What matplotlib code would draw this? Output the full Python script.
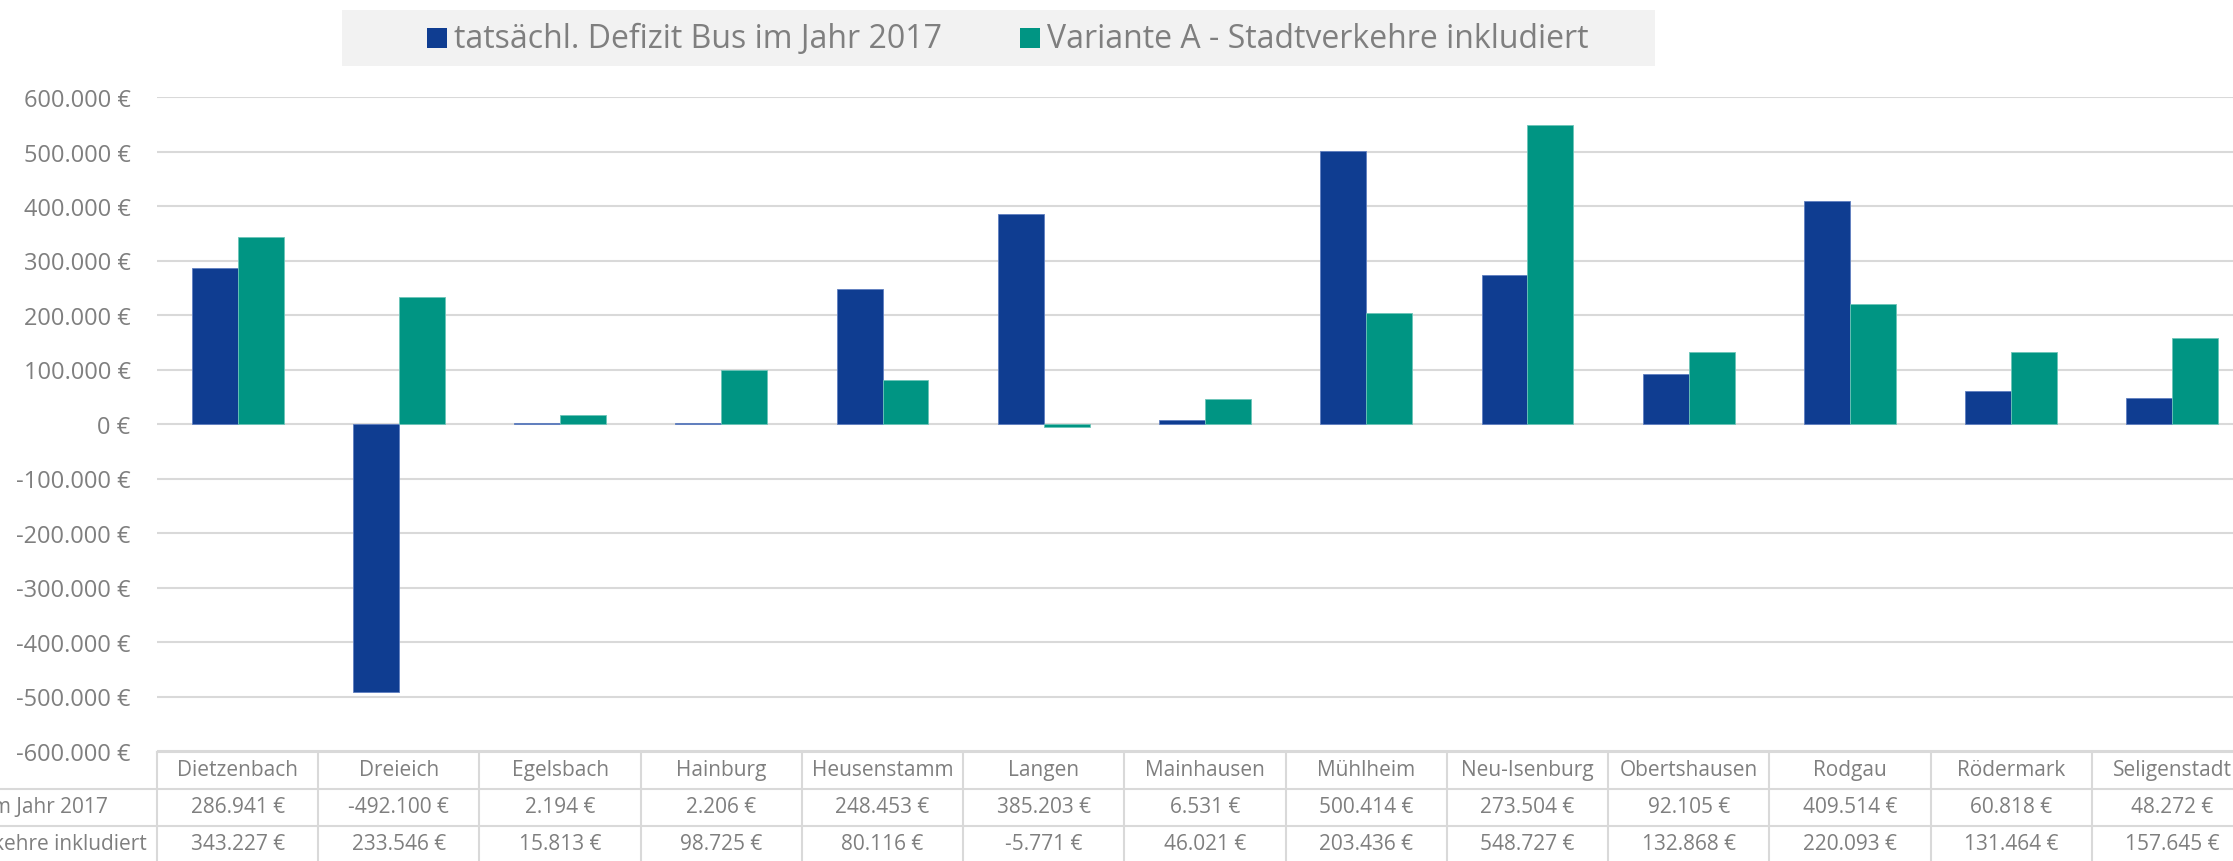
import matplotlib.pyplot as plt
from matplotlib.patches import Rectangle
from matplotlib.transforms import blended_transform_factory
from matplotlib.ticker import FuncFormatter

# Daten
staedte = ["Dietzenbach", "Dreieich", "Egelsbach", "Hainburg", "Heusenstamm", "Langen",
           "Mainhausen", "Mühlheim", "Neu-Isenburg", "Obertshausen", "Rodgau",
           "Rödermark", "Seligenstadt"]
defizit_2017 = [286941, -492100, 2194, 2206, 248453, 385203, 6531, 500414,
                273504, 92105, 409514, 60818, 48272]
variante_a = [343227, 233546, 15813, 98725, 80116, -5771, 46021, 203436,
              548727, 132868, 220093, 131464, 157645]
serien = ["tatsächl. Defizit Bus im Jahr 2017", "Variante A - Stadtverkehre inkludiert"]

blau = "#0F3D91"
gruen = "#009583"
grau = "#7F7F7F"
linie = "#D9D9D9"

plt.rcParams['font.family'] = ['Open Sans', 'DejaVu Sans']

W, H = 2233, 862
fig = plt.figure(figsize=(W / 100, H / 100), dpi=100)

# Achse (rechts etwas über den Bildrand hinaus, wie im Original abgeschnitten)
ax_l, ax_r, ax_t, ax_b = 157, 2253, 98, 752
ax = fig.add_axes([ax_l / W, 1 - ax_b / H, (ax_r - ax_l) / W, (ax_b - ax_t) / H])

def euro(v):
    s = f"{abs(v):,.0f}".replace(",", ".")
    return ("-" if v < 0 else "") + s + " €"

x = list(range(len(staedte)))
w = 0.285
ax.bar([i - w / 2 for i in x], defizit_2017, w, color=blau, edgecolor="#5F7FC0", linewidth=0.6, zorder=3)
ax.bar([i + w / 2 for i in x], variante_a, w, color=gruen, edgecolor="#6CC5B8", linewidth=0.6, zorder=3)

ax.set_xlim(-0.5, len(staedte) - 0.5)
ax.set_ylim(-600000, 600000)
ax.set_yticks(range(-600000, 600001, 100000))
ax.yaxis.set_major_formatter(FuncFormatter(lambda v, p: euro(v)))
ax.tick_params(axis="y", length=0, pad=19, labelsize=17, labelcolor=grau)
ax.set_xticks([])
ax.grid(axis="y", color=linie, linewidth=1.5, zorder=0)
for s in ax.spines.values():
    s.set_visible(False)

# Datentabelle unter der Achse
trans = blended_transform_factory(ax.transData, fig.transFigure)
ftrans = fig.transFigure
def fy(py):
    return 1 - py / H

zeilen = [753, 790, 827, 864]
n = len(staedte)
fig.add_artist(plt.Line2D([-0.5, n - 0.5], [fy(zeilen[0])] * 2, transform=trans, color=linie, lw=1.5))
for zy in zeilen[1:3]:
    fig.add_artist(plt.Line2D([0, 1], [fy(zy)] * 2, transform=ftrans, color=linie, lw=1.5))
for k in range(n + 1):
    fig.add_artist(plt.Line2D([k - 0.5, k - 0.5], [fy(zeilen[0]), fy(zeilen[3])], transform=trans, color=linie, lw=1.5))

for i, name in enumerate(staedte):
    fig.text(i, fy(771), name, transform=trans, ha="center", va="center", fontsize=15, color=grau)
    fig.text(i, fy(808), euro(defizit_2017[i]), transform=trans, ha="center", va="center", fontsize=15, color=grau)
    fig.text(i, fy(845), euro(variante_a[i]), transform=trans, ha="center", va="center", fontsize=15, color=grau)

# Zeilenbeschriftungen (links vom Bildrand abgeschnitten)
fig.text(108 / W, fy(808), serien[0], ha="right", va="center", fontsize=15, color=grau)
fig.text(147 / W, fy(845), serien[1], ha="right", va="center", fontsize=15, color=grau)

# Legende oben
fig.add_artist(Rectangle((342 / W, fy(67)), (1655 - 342) / W, 56 / H, transform=ftrans,
                         facecolor="#F2F2F2", edgecolor="none"))
for px, farbe, txt in [(427, blau, serien[0]), (1020, gruen, serien[1])]:
    fig.add_artist(Rectangle((px / W, fy(49)), 20 / W, 20 / H, transform=ftrans,
                             facecolor=farbe, edgecolor="none"))
    fig.text((px + 27) / W, fy(39), txt, ha="left", va="center", fontsize=23, color=grau)

fig.savefig("out.png", dpi=100)
